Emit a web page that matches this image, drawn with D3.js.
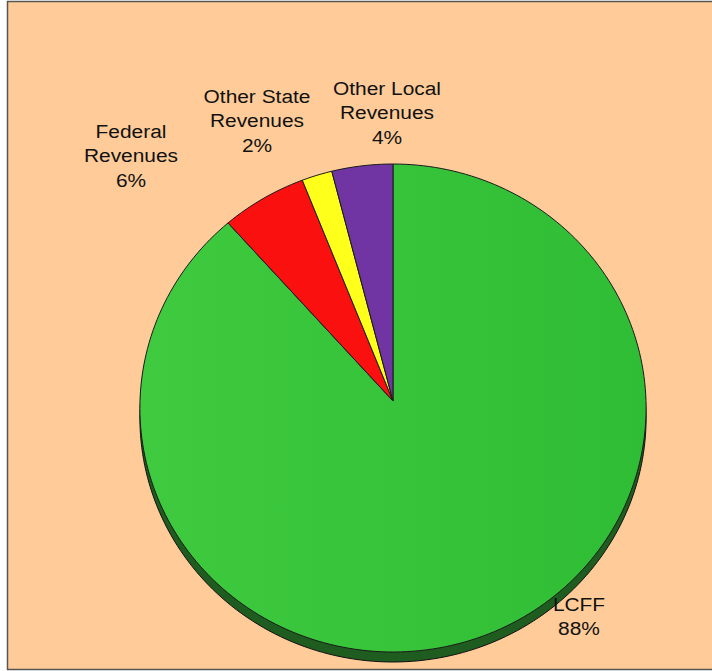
<!DOCTYPE html>
<html>
<head>
<meta charset="utf-8">
<title>Revenue Sources</title>
<script src="https://d3js.org/d3.v7.min.js"></script>
<style>
  body { margin: 0; background: #fff; }
  text { font-family: "Liberation Sans", Arial, sans-serif; font-size: 19px; fill: #111; }
</style>
</head>
<body>
<script>
// slice data, clockwise from 12 o'clock
var categories = ["LCFF", "Federal Revenues", "Other State Revenues", "Other Local Revenues"];
var values = [88.4, 5.6, 2.0, 4.0];
var labelLines = [["LCFF"], ["Federal", "Revenues"], ["Other State", "Revenues"], ["Other Local", "Revenues"]];
var colors = ["url(#greenGrad)", "#fb1010", "#ffff1c", "#7035a2"];

var width = 712, height = 671;
// pie centre and tilt (slight perspective like the excel 3d pie)
var cx = 393, cy = 401, rx = 253, ry = 243.8, persp = 0.0287, depth = 10;

// hand placed label centres (Excel manual placement)
var labelAt = [[579, 611], [131, 138], [257, 103], [387, 95]];

var svg = d3.select("body").append("svg")
    .attr("width", width)
    .attr("height", height);

var defs = svg.append("defs");
var g = defs.append("linearGradient").attr("id", "greenGrad")
    .attr("x1", "0%").attr("x2", "100%").attr("y1", "0%").attr("y2", "0%");
g.append("stop").attr("offset", "0%").attr("stop-color", "#3fca3f");
g.append("stop").attr("offset", "100%").attr("stop-color", "#2fbd35");

// chart area
svg.append("rect")
    .attr("x", 7.5).attr("y", 1.5)
    .attr("width", width + 10).attr("height", 668)
    .attr("fill", "#ffcc99")
    .attr("stroke", "#555").attr("stroke-width", 1.5);

var color = d3.scaleOrdinal().domain(categories).range(colors);

var pie = d3.pie().sort(null).value(function(d, i) { return values[i]; });
var arcs = pie(categories);

function pt(a, dy) {
  var k = 1 + persp * Math.cos(a);
  return [cx + rx * Math.sin(a) / k, cy + (dy || 0) - ry * Math.cos(a) / k];
}

function rim(a0, a1, dy) {
  var pts = [];
  var n = Math.max(4, Math.ceil((a1 - a0) * 40));
  for (var i = 0; i <= n; i++) pts.push(pt(a0 + (a1 - a0) * i / n, dy));
  return pts;
}

var line = d3.line();

// 3d side
svg.append("path")
    .attr("d", line(rim(0, 2 * Math.PI, depth)) + "Z")
    .attr("fill", "#1f5c1f")
    .attr("stroke", "#111").attr("stroke-width", 1);

svg.selectAll(".slice")
  .data(arcs)
  .enter().append("path")
    .attr("class", "slice")
    .attr("d", function(d) {
      return line([[cx, cy]].concat(rim(d.startAngle, d.endAngle))) + "Z";
    })
    .attr("fill", function(d) { return color(d.data); })
    .attr("stroke", "#1a1a1a")
    .attr("stroke-width", 1)
    .attr("stroke-linejoin", "round");

// labels
var lab = svg.selectAll(".lab")
  .data(arcs)
  .enter().append("text")
    .attr("class", "lab")
    .attr("text-anchor", "middle")
    .attr("transform", function(d, i) {
      return "translate(" + labelAt[i][0] + "," + labelAt[i][1] + ") scale(1.1,1)";
    });

lab.each(function(d, i) {
  var t = d3.select(this);
  var lines = labelLines[i].concat([Math.round(values[i]) + "%"]);
  lines.forEach(function(s, j) {
    t.append("tspan")
      .attr("x", 0)
      .attr("dy", j === 0 ? 0 : 24.5)
      .text(s);
  });
});
</script>
</body>
</html>
